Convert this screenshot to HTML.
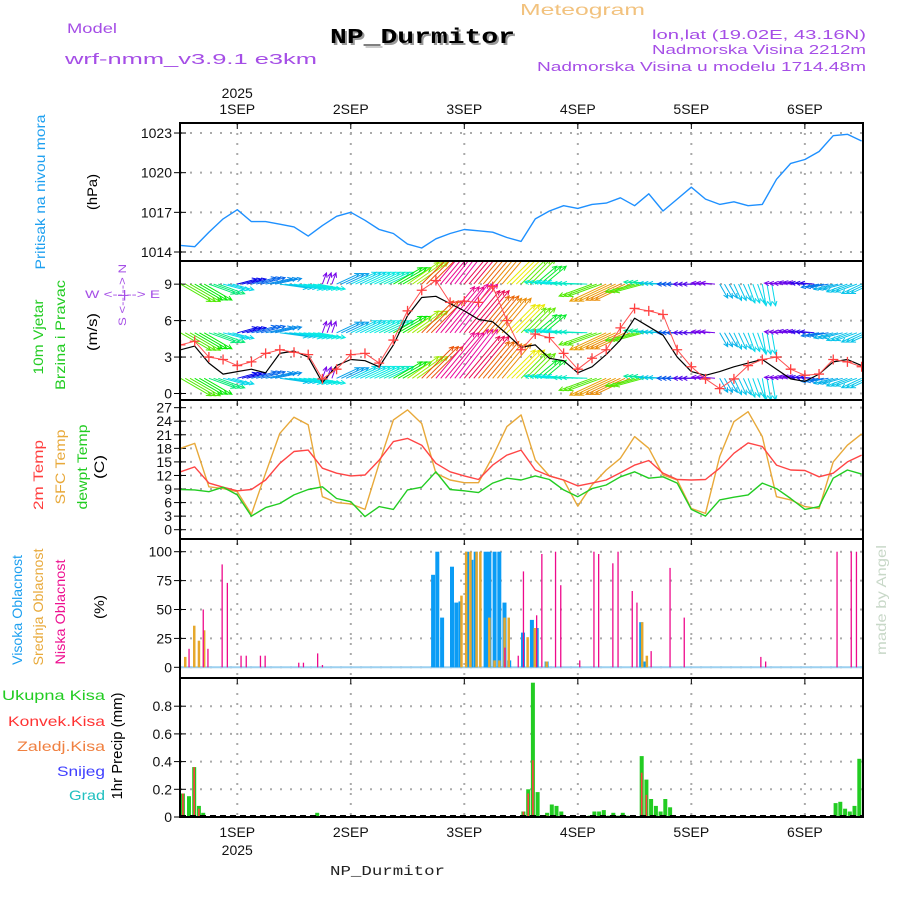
<!DOCTYPE html>
<html><head><meta charset="utf-8"><title>Meteogram NP_Durmitor</title>
<style>
html,body{margin:0;padding:0;background:#fff;}
svg{display:block;font-family:"Liberation Sans",sans-serif;}
</style></head>
<body>
<svg id="chart" width="900" height="900" viewBox="0 0 900 900" xmlns="http://www.w3.org/2000/svg">
<defs>
<clipPath id="clipP"><rect x="180" y="123" width="683" height="138"/></clipPath>
<clipPath id="clipW"><rect x="180" y="262" width="683" height="138"/></clipPath>
<clipPath id="clipT"><rect x="180" y="401" width="683" height="138"/></clipPath>
<clipPath id="clipC"><rect x="180" y="540" width="683" height="138"/></clipPath>
<clipPath id="clipR"><rect x="180" y="679" width="683" height="138"/></clipPath>
</defs>
<g id="header">
<text x="67" y="33" fill="#a54ee6" font-size="14" textLength="50" lengthAdjust="spacingAndGlyphs">Model</text>
<text x="65" y="64" fill="#a54ee6" font-size="15" textLength="252" lengthAdjust="spacingAndGlyphs">wrf-nmm_v3.9.1 e3km</text>
<text x="332" y="45" fill="#999" font-size="21" font-weight="bold" font-family="Liberation Mono, monospace" textLength="185" lengthAdjust="spacingAndGlyphs">NP_Durmitor</text>
<text x="330" y="43" fill="#000" font-size="21" font-weight="bold" font-family="Liberation Mono, monospace" textLength="185" lengthAdjust="spacingAndGlyphs">NP_Durmitor</text>
<text x="520" y="15" fill="#f2c27e" font-size="16" textLength="125" lengthAdjust="spacingAndGlyphs">Meteogram</text>
<text x="866" y="39" fill="#a54ee6" font-size="13" text-anchor="end" textLength="214" lengthAdjust="spacingAndGlyphs">lon,lat (19.02E, 43.16N)</text>
<text x="866" y="54" fill="#a54ee6" font-size="13" text-anchor="end" textLength="214" lengthAdjust="spacingAndGlyphs">Nadmorska Visina 2212m</text>
<text x="866" y="71" fill="#a54ee6" font-size="13" text-anchor="end" textLength="329" lengthAdjust="spacingAndGlyphs">Nadmorska Visina u modelu 1714.48m</text>
<text x="330" y="875" fill="#222" font-size="14" font-family="Liberation Mono, monospace" textLength="115" lengthAdjust="spacingAndGlyphs">NP_Durmitor</text>
<text transform="translate(886,600) rotate(-90)" fill="#c8d8c8" font-size="14" text-anchor="middle" textLength="110" lengthAdjust="spacingAndGlyphs">made by Angel</text>
</g>
<g id="ylabels">
<text transform="translate(45,192) rotate(-90)" fill="#1ea0f0" font-size="14" text-anchor="middle" textLength="155" lengthAdjust="spacingAndGlyphs">Pritisak na nivou mora</text>
<text transform="translate(97,192) rotate(-90)" fill="#000" font-size="14" text-anchor="middle" textLength="36" lengthAdjust="spacingAndGlyphs">(hPa)</text>
<text transform="translate(43,337) rotate(-90)" fill="#22cc22" font-size="14" text-anchor="middle" textLength="75" lengthAdjust="spacingAndGlyphs">10m Vjetar</text>
<text transform="translate(65,335) rotate(-90)" fill="#22cc22" font-size="14" text-anchor="middle" textLength="110" lengthAdjust="spacingAndGlyphs">Brzina i Pravac</text>
<text transform="translate(97,332) rotate(-90)" fill="#000" font-size="14" text-anchor="middle" textLength="38" lengthAdjust="spacingAndGlyphs">(m/s)</text>
<text x="85" y="298" fill="#a54ee6" font-size="11" textLength="75" lengthAdjust="spacingAndGlyphs">W   &lt;--|--&gt;   E</text>
<text transform="translate(126,295) rotate(-90)" fill="#a54ee6" font-size="11" text-anchor="middle" textLength="62" lengthAdjust="spacingAndGlyphs">S &lt;--|--&gt; N</text>
<text transform="translate(43,475) rotate(-90)" fill="#ff4040" font-size="14" text-anchor="middle" textLength="70" lengthAdjust="spacingAndGlyphs">2m Temp</text>
<text transform="translate(65,467) rotate(-90)" fill="#e8a93a" font-size="14" text-anchor="middle" textLength="75" lengthAdjust="spacingAndGlyphs">SFC Temp</text>
<text transform="translate(87,467) rotate(-90)" fill="#22cc22" font-size="14" text-anchor="middle" textLength="85" lengthAdjust="spacingAndGlyphs">dewpt Temp</text>
<text transform="translate(104,467) rotate(-90)" fill="#000" font-size="14" text-anchor="middle" textLength="24" lengthAdjust="spacingAndGlyphs">(C)</text>
<text transform="translate(22,610) rotate(-90)" fill="#1ea0f0" font-size="14" text-anchor="middle" textLength="110" lengthAdjust="spacingAndGlyphs">Visoka Oblacnost</text>
<text transform="translate(43,607) rotate(-90)" fill="#e8a93a" font-size="14" text-anchor="middle" textLength="117" lengthAdjust="spacingAndGlyphs">Srednja Oblacnost</text>
<text transform="translate(65,612) rotate(-90)" fill="#ee1090" font-size="14" text-anchor="middle" textLength="105" lengthAdjust="spacingAndGlyphs">Niska Oblacnost</text>
<text transform="translate(104,607) rotate(-90)" fill="#000" font-size="14" text-anchor="middle" textLength="24" lengthAdjust="spacingAndGlyphs">(%)</text>
<text transform="translate(122,746) rotate(-90)" fill="#000" font-size="15" text-anchor="middle" textLength="107" lengthAdjust="spacingAndGlyphs">1hr Precip (mm)</text>
<text x="2" y="700" fill="#22cc22" font-size="14" textLength="103" lengthAdjust="spacingAndGlyphs">Ukupna Kisa</text>
<text x="8" y="726" fill="#ff3333" font-size="14" textLength="97" lengthAdjust="spacingAndGlyphs">Konvek.Kisa</text>
<text x="17" y="751" fill="#f08040" font-size="14" textLength="88" lengthAdjust="spacingAndGlyphs">Zaledj.Kisa</text>
<text x="57" y="776" fill="#4040ff" font-size="14" textLength="48" lengthAdjust="spacingAndGlyphs">Snijeg</text>
<text x="69" y="800" fill="#20c0c0" font-size="14" textLength="36" lengthAdjust="spacingAndGlyphs">Grad</text>
</g>
<g id="grid"></g>
<g id="marks"></g>
<g id="frames"></g>
</svg>
<script>
// ---- data (3-hourly samples starting Aug 31 12:00 UTC) ----
const pressure = [1014.5,1014.4,1015.5,1016.5,1017.2,1016.3,1016.3,1016.1,1015.9,1015.2,1016.0,1016.7,1017.0,1016.4,1015.7,1015.4,1014.6,1014.3,1015.0,1015.4,1015.7,1015.6,1015.5,1015.1,1014.8,1016.5,1017.1,1017.5,1017.3,1017.6,1017.7,1018.1,1017.5,1018.4,1017.1,1018.0,1018.9,1018.0,1017.6,1017.8,1017.5,1017.6,1019.5,1020.7,1021.0,1021.6,1022.8,1022.9,1022.4];
const windSpeed = [3.6,3.9,2.5,1.6,1.8,2.0,1.7,3.3,3.5,3.0,0.9,2.3,2.8,2.7,2.2,4.0,6.4,7.9,8.0,7.4,6.8,6.1,5.9,4.9,3.8,4.0,2.9,2.7,1.7,2.2,3.2,4.4,6.2,5.5,4.8,3.0,1.8,1.5,1.8,2.2,2.5,2.8,2.0,1.2,1.0,1.6,2.6,2.8,2.3];
const windGust = [4.0,4.3,3.0,2.8,2.3,2.6,3.3,3.6,3.4,3.2,1.2,2.0,3.2,3.3,2.5,4.4,6.8,8.5,9.3,7.5,7.6,7.5,8.8,6.0,3.6,4.9,4.6,3.3,2.0,2.9,3.6,5.4,7.0,6.8,6.5,3.6,2.2,1.2,0.4,1.2,2.3,2.8,3.0,2.0,1.5,1.6,2.8,2.6,2.2];
const windAngle = [-30,-30,-20,-15,15,15,12,-8,-10,-10,70,25,25,25,25,30,35,45,50,52,50,50,50,45,45,40,175,175,178,-160,-155,-155,-165,175,178,180,180,175,-60,-65,-70,-80,175,170,175,-170,-165,-160,-155];
const windLen = [35,32,28,22,20,25,27,28,28,28,12,25,28,28,28,33,38,45,60,62,55,48,45,40,35,28,25,26,25,35,40,38,30,25,24,20,18,14,16,18,20,22,12,12,14,18,20,22,22];
const windHue = [100,120,150,185,240,215,205,190,182,178,270,200,185,178,170,120,80,20,325,320,340,25,35,60,95,130,175,180,170,100,40,35,100,160,190,220,260,270,195,190,185,185,270,265,250,210,195,190,190];
const temp2m = [12.8,13.9,10.3,9.4,8.6,8.9,11.0,14.7,17.3,17.6,13.6,12.5,11.9,12.1,15.4,19.5,20.2,18.7,14.7,12.8,11.9,11.1,14.3,16.5,17.6,13.2,11.9,11.0,9.7,10.3,11.0,12.6,14.3,15.3,12.5,11.1,11.0,11.1,13.6,16.9,19.2,18.4,14.3,13.2,13.1,11.7,12.5,15.0,16.5];
const tempSfc = [18.0,19.1,9.5,9.1,8.4,3.4,12.5,21.3,24.9,23.2,7.3,6.0,5.7,4.5,14.7,24.3,26.5,23.5,12.5,11.0,10.4,10.4,16.2,22.8,25.4,15.4,11.9,11.0,5.2,9.9,13.2,15.8,20.6,18.0,12.1,11.0,4.7,3.6,16.2,23.9,26.1,20.6,7.3,6.6,5.1,4.7,15.0,18.7,21.2];
const dewpt = [8.9,8.8,8.4,9.4,7.7,3.0,4.9,5.8,7.7,8.9,9.5,6.9,6.2,2.9,5.1,4.5,8.8,9.4,12.8,8.9,8.6,8.2,10.3,11.4,11.0,11.9,11.1,8.8,7.3,9.1,9.9,11.7,12.8,11.4,11.7,10.3,4.5,3.0,6.6,7.2,7.7,10.3,9.1,6.9,4.5,5.1,11.4,13.2,12.3];
// cloud bars: hour, percent
const lowCloudHours = [1.8,4.8,5.8,8.8,9.9,12.8,13.9,16.9,17.9,25,26,29,30,68.6,71.4,72.5,75.3,76.4,79.3,80.4,84.4,87.4,88.4,91.4,92.5,95.5,96.5,99.5,103.5,106.5,122.7,123.7,138.8,141.8,142.9];
const lowCloudVals  = [16,50,16,89,73,10,10,10,10,4,4,12,2,17,10,83,45,98,100,71,6,100,98,90,100,66,56,14,86,43,9,5,100,100,100];
const midCloudHours = [1,2.9,3.9,5,59.4,60.4,61.3,62.6,63.4,65.3,66.4,67.4,68.5,69.4,73.4,74.9,77.4,97.6,98.6];
const midCloudVals  = [9,36,23,32,62,100,100,100,100,43,6,6,43,43,26,34,5,39,10];
const highCloudHours = [53.4,54.3,55.3,57.4,58.3,59.2,60.6,61.5,62.4,64.5,65.3,66.4,67.4,68.5,69.5,72.4,74.3,75.3,77.4,97.4,98.3];
const highCloudVals  = [80,100,43,87,56,57,100,93,100,100,100,100,100,56,6,30,41,34,5,39,5];
// precipitation: hour, total mm, convective mm
const precipHours = [0.5,1.8,2.9,3.9,4.8,28,28.9,72.5,73.5,74.5,75.5,76.5,77.5,78.5,79.5,80.5,86.5,87.5,88.5,89.5,90.5,91.5,92.5,93.5,94.5,97.5,98.5,99.5,100.5,101.5,102.5,103.5,138.5,139.5,140.5,141.5,142.5,143.5,144.5];
const precipTotal = [0.17,0.15,0.36,0.08,0.03,0.01,0.03,0.04,0.2,0.97,0.18,0.01,0.03,0.09,0.08,0.04,0.01,0.04,0.04,0.05,0.01,0.03,0.01,0.03,0.01,0.44,0.27,0.13,0.08,0.04,0.13,0.07,0.1,0.11,0.06,0.04,0.08,0.42,0.14];
const precipConv  = [0.17,0,0.36,0.06,0,0,0,0.04,0.17,0.41,0,0,0.01,0,0,0,0,0,0,0,0,0,0,0,0,0.32,0.16,0,0,0,0,0,0,0,0,0,0,0,0];
// axis ticks
const dayLabels = ["1SEP","2SEP","3SEP","4SEP","5SEP","6SEP"];
const pressureTicks = [1014,1017,1020,1023];
const windTicks = [0,3,6,9];
const windRows = [9,5,1.25];
const tempTicks = [0,3,6,9,12,15,18,21,24,27];
const cloudTicks = [0,25,50,75,100];
const precipTicks = [0,0.2,0.4,0.6,0.8];
const precipTickLabels = ["0","0.2","0.4","0.6","0.8"];

// ---- axis functions ----
const X = h => 180.5 + h * 4.73;
const dayHour = d => 12 + 24 * d;
const YP = v => 252 - (v - 1014) * 13.22;
const YW = v => 393.5 - v * 12.15;
const YT = v => 529.7 - v * 4.52;
const YC = v => 667.3 - v * 1.156;
const YR = v => 817 - v * 138.5;
const sampleHour = i => i * 3;

const NS = "http://www.w3.org/2000/svg";
const grid = document.getElementById('grid');
const marks = document.getElementById('marks');
const frames = document.getElementById('frames');
function mk(tag, attrs, parent) {
  const e = document.createElementNS(NS, tag);
  for (const k in attrs) e.setAttribute(k, attrs[k]);
  parent.appendChild(e);
  return e;
}
const panels = [[123,261],[261,400],[400,539],[539,678],[678,817]];
const GRIDSTYLE = {stroke:'#aaa','stroke-width':2,'stroke-dasharray':'2,8'};

dayLabels.forEach((lab, d) => {
  const x = X(dayHour(d));
  const l = mk('line', Object.assign({x1:x,x2:x,y1:123,y2:817}, GRIDSTYLE), grid);
  
  
  const t = mk('text', {x:x, y:114, 'text-anchor':'middle', 'font-size':14, fill:'#111'}, grid);
  t.textContent = lab;
  
  
  const b = mk('text', {x:x, y:837, 'text-anchor':'middle', 'font-size':14, fill:'#111'}, grid);
  b.textContent = lab;
  
  
  panels.forEach(p => {
    const tk = mk('line', {x1:x,x2:x,y1:p[0],y2:p[0]+6,stroke:'#000','stroke-width':1}, grid);
    
    
  });
});
const yr = mk('text', {x:X(12), y:98, 'text-anchor':'middle', 'font-size':14, fill:'#111'}, grid);
yr.textContent = '2025';


const yr2 = mk('text', {x:X(12), y:855, 'text-anchor':'middle', 'font-size':14, fill:'#111'}, grid);
yr2.textContent = '2025';



function hTicks(ticks, labels, yf, name) {
  ticks.forEach((v, i) => {
    const y = yf(v);
    const l = mk('line', Object.assign({x1:180,x2:863,y1:y,y2:y}, GRIDSTYLE), grid);
    
    
    const tk = mk('line', {x1:174,x2:186,y1:y,y2:y,stroke:'#000','stroke-width':1}, grid);
    
    
    const t = mk('text', {x:172, y:y+5, 'text-anchor':'end', 'font-size':14, fill:'#111'}, grid);
    t.textContent = labels ? labels[i] : String(v);
    
    
  });
}
hTicks(pressureTicks, null, YP, 'pressure');
hTicks(windTicks, null, YW, 'wind');
hTicks(tempTicks, null, YT, 'temp');
hTicks(cloudTicks, null, YC, 'cloud');
hTicks(precipTicks, precipTickLabels, YR, 'precip');

function polyline(arr, yf, color, clip, name, w) {
  const pts = arr.map((v, i) => X(sampleHour(i)).toFixed(1) + ',' + yf(v).toFixed(1)).join(' ');
  const p = mk('polyline', {points:pts, fill:'none', stroke:color, 'stroke-width':w||1.3, 'clip-path':'url(#'+clip+')', 'stroke-linejoin':'round'}, marks);
  
  
  return p;
}
polyline(pressure, YP, '#1e90ff', 'clipP', 'pressure-line', 1.4);

const gW = mk('g', {'clip-path':'url(#clipW)'}, marks);


windAngle.forEach((ang, i) => {
  const col = 'hsl(' + windHue[i] + ',95%,47%)';
  const a = ang * Math.PI / 180;
  const L = windLen[i];
  for (let k = 0; k < 3; k++) {
    const x0 = X(sampleHour(i) + k);
    windRows.forEach(r => {
      const y0 = YW(r);
      const x1 = x0 + L * Math.cos(a), y1 = y0 - L * Math.sin(a);
      const h1 = a + Math.PI - 0.45, h2 = a + Math.PI + 0.45;
      const d = 'M' + x0.toFixed(1) + ',' + y0.toFixed(1) + 'L' + x1.toFixed(1) + ',' + y1.toFixed(1) +
        'M' + (x1 + 5 * Math.cos(h1)).toFixed(1) + ',' + (y1 - 5 * Math.sin(h1)).toFixed(1) + 'L' + x1.toFixed(1) + ',' + y1.toFixed(1) +
        'L' + (x1 + 5 * Math.cos(h2)).toFixed(1) + ',' + (y1 - 5 * Math.sin(h2)).toFixed(1);
      const p = mk('path', {d:d, stroke:col, 'stroke-width':1, fill:'none'}, gW);
      
      
    });
  }
});
polyline(windSpeed, YW, '#000', 'clipW', 'wind-speed-line', 1.2);
polyline(windGust, YW, '#ff5050', 'clipW', 'wind-gust-line', 1);
windGust.forEach((v, i) => {
  const x = X(sampleHour(i)), y = YW(v);
  const p = mk('path', {d:'M'+(x-5)+','+y+'h10M'+x+','+(y-5)+'v10', stroke:'#ff4040', 'stroke-width':1.3, 'clip-path':'url(#clipW)'}, marks);
  
  
});

polyline(tempSfc, YT, '#e8a93a', 'clipT', 'sfc-temp-line', 1.4);
polyline(temp2m, YT, '#ff4545', 'clipT', 'temp-2m-line', 1.4);
polyline(dewpt, YT, '#22cc22', 'clipT', 'dewpt-line', 1.4);

function bars(hours, vals, yf, y0, color, w, name, clip) {
  hours.forEach((h, i) => {
    const x = X(h), y = yf(vals[i]);
    const r = mk('rect', {x:(x - w/2).toFixed(1), y:y.toFixed(1), width:w, height:Math.max(0, y0 - y).toFixed(1), fill:color, 'clip-path':'url(#'+clip+')'}, marks);
    
    
  });
}
const cloudBase = mk('line', {x1:180,x2:863,y1:YC(0),y2:YC(0),stroke:'#9cd0f0','stroke-width':2}, marks);


bars(highCloudHours, highCloudVals, YC, YC(0), '#0a9cf5', 4, 'high-cloud-bar', 'clipC');
bars(midCloudHours, midCloudVals, YC, YC(0), '#e6a82d', 2.5, 'mid-cloud-bar', 'clipC');
bars(lowCloudHours, lowCloudVals, YC, YC(0), '#ee0a8c', 1.3, 'low-cloud-bar', 'clipC');

bars(precipHours, precipTotal, YR, YR(0), '#22cc22', 4, 'total-precip-bar', 'clipR');
bars(precipHours, precipConv, YR, YR(0), '#ff4040', 1.6, 'convective-precip-bar', 'clipR');
const pz = mk('line', {x1:180,x2:863,y1:816,y2:816,stroke:'#000','stroke-width':2,'stroke-dasharray':'6,4'}, marks);



panels.forEach((p, i) => {
  const r = mk('rect', {x:180, y:p[0], width:683, height:p[1]-p[0], fill:'none', stroke:'#000', 'stroke-width':2}, frames);
  
  
});
</script>
</body></html>
